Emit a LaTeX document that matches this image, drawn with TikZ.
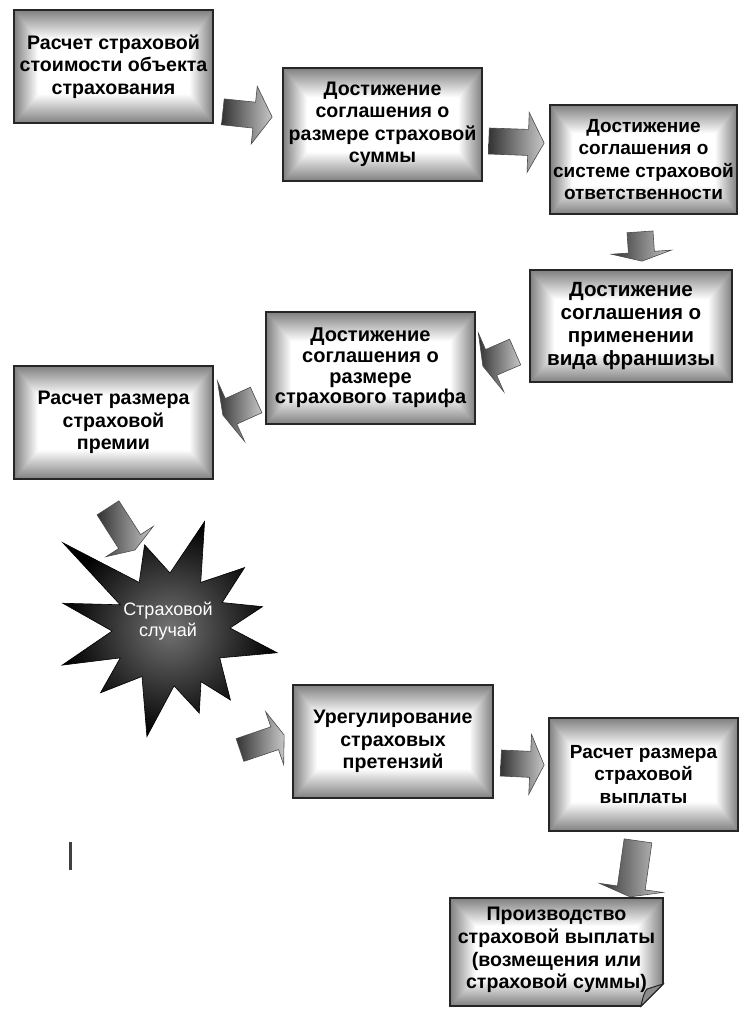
\documentclass[tikz,border=0pt]{standalone}
\usepackage{fontspec}
\setmainfont{Liberation Sans}
\usetikzlibrary{calc}
\pgfdeclarefunctionalshading{boxshade}{\pgfpoint{-50bp}{-50bp}}{\pgfpoint{50bp}{50bp}}{}{abs 12 sub 13 div exch abs 19 sub 6 div 2 copy lt {exch} if pop dup 0 lt {pop 0} if dup 1 gt {pop 1} if 0.5 mul 1 exch sub dup dup}
\tikzset{
  box/.style={draw=black!85, line width=1.7pt, shade, shading=boxshade, align=center,
    font=\fontsize{19.6pt}{22.5pt}\selectfont\bfseries, inner sep=0pt},
  boxpath/.style={draw=black!85, line width=1.7pt, shade, shading=boxshade},
  boxtext/.style={align=center, font=\fontsize{19.6pt}{22.8pt}\selectfont\bfseries, inner sep=0pt},
  blockarrow/.style={draw=black!70, line width=0.6pt, left color=black!80, right color=black!22, line join=miter},
  burst/.style={draw=black, line width=0.6pt, inner color=black!55, outer color=black},
  bursttext/.style={align=center, text=white, font=\fontsize{18pt}{20.5pt}\selectfont, inner sep=0pt},
  cursorbar/.style={line width=3pt, black!75}
}
\newcommand\blockarr[5]{%
  \path[blockarrow] let \p1=(#1), \p2=(#2), \n1={atan2(\y2-\y1,\x2-\x1)}, \n2={veclen(\x2-\x1,\y2-\y1)-#5} in
    ($(\p1)+(\n1+90:#3)$) -- ($(\p1)+(\n1:\n2)+(\n1+90:#3)$) -- ($(\p1)+(\n1:\n2)+(\n1+90:#4)$) -- (\p2)
    -- ($(\p1)+(\n1:\n2)+(\n1-90:#4)$) -- ($(\p1)+(\n1:\n2)+(\n1-90:#3)$) -- ($(\p1)+(\n1-90:#3)$) -- cycle;}
\begin{document}
\begin{tikzpicture}[x=1pt,y=-1pt]
\fill[white] (0,0) rectangle (740,1010);
\useasboundingbox (0,0) rectangle (740,1010);

% boxes
\node[box, minimum width=199pt, minimum height=113pt] (b1) at (113.5,66.5) {\raisebox{0pt}[0pt][0pt]{}Расчет страховой\\стоимости объекта\\страхования};
\node[box, minimum width=199pt, minimum height=113pt] (b2) at (382.5,124.5) {Достижение\\соглашения о\\размере страховой\\суммы};
\node[box, minimum width=187pt, minimum height=109pt, font=\fontsize{19pt}{22.5pt}\selectfont\bfseries] (b3) at (643.5,159.5) {Достижение\\соглашения о\\системе страховой\\ответственности};
\node[box, minimum width=202pt, minimum height=112pt, font=\fontsize{20.6pt}{23.3pt}\selectfont\bfseries] (b4) at (631,326) {Достижение\\соглашения о\\применении\\вида франшизы};
\node[box, minimum width=209pt, minimum height=112pt, font=\fontsize{20pt}{20.6pt}\selectfont\bfseries] (b5) at (370.5,368) {Достижение\\соглашения о\\размере\\страхового тарифа};
\node[box, minimum width=199pt, minimum height=113pt] (b6) at (113.5,422.5) {Расчет размера\\страховой\\премии};
\node[box, minimum width=200pt, minimum height=113pt] (b7) at (393,741.5) {Урегулирование\\страховых\\претензий};
\node[box, minimum width=189pt, minimum height=113pt, font=\fontsize{19pt}{22.5pt}\selectfont\bfseries] (b8) at (643.5,774.5) {Расчет размера\\страховой\\выплаты};

% last box with folded corner
\path[boxpath] (450,898) -- (663,898) -- (663,984) -- (641,1006) -- (450,1006) -- cycle;
\path[draw=black!85, line width=1pt, fill=black!45] (641,1006) .. controls (643,996) and (645,991) .. (647,989) -- (663,984) -- cycle;
\node[boxtext] (b9) at (556.5,950) {Производство\\страховой выплаты\\(возмещения или\\страховой суммы)};

% starburst
\coordinate (sc) at (170,628);
\path[burst] ($(sc)+(-141.5:137)$) -- ($(sc)+(-124:55)$) -- ($(sc)+(-107:87)$) -- ($(sc)+(-90:55)$)
  -- ($(sc)+(-72:112)$) -- ($(sc)+(-56:55)$) -- ($(sc)+(-39:96)$) -- ($(sc)+(-26:58)$)
  -- ($(sc)+(-13:95)$) -- ($(sc)+(0:60)$) -- ($(sc)+(13:110)$) -- ($(sc)+(31:58)$)
  -- ($(sc)+(50:94)$) -- ($(sc)+(60:62)$) -- ($(sc)+(71:90)$) -- ($(sc)+(86:58)$)
  -- ($(sc)+(102:111)$) -- ($(sc)+(120:56)$) -- ($(sc)+(137:95)$) -- ($(sc)+(149:58)$)
  -- ($(sc)+(161:114)$) -- ($(sc)+(177:58)$) -- ($(sc)+(193:110)$) -- ($(sc)+(205:55)$) -- cycle;
\node[bursttext] (star) at (168,621) {Страховой\\случай};

% arrow end points
\coordinate (a1s) at ($(b1.south east)+(9,-12)$);   \coordinate (a1e) at ($(b2.west)+(-10,-7.5)$);
\coordinate (a2s) at ($(b2.east)+(6,16.5)$);        \coordinate (a2e) at ($(b3.west)+(-5,-16.5)$);
\coordinate (a3s) at ($(b3.south)+(-3.5,17)$);      \coordinate (a3e) at ($(b4.north)+(11,-8)$);
\coordinate (a4s) at ($(b4.west)+(-14,26)$);        \coordinate (a4e) at ($(b5.east)+(7,-2)$);
\coordinate (a5s) at ($(b5.west)+(-9,32)$);         \coordinate (a5e) at ($(b6.east)+(9,-7.5)$);
\coordinate (a6s) at ($(b6.south)+(-5.5,28)$);      \coordinate (a6e) at ($(sc)+(-35,-78)$);
\coordinate (a7s) at ($(sc)+(70,122)$);             \coordinate (a7e) at ($(b7.west)+(-8,-6.5)$);
\coordinate (a8s) at ($(b7.east)+(7,21.5)$);        \coordinate (a8e) at ($(b8.west)+(-4,-9.5)$);
\coordinate (a9s) at ($(b8.south)+(-5.5,9)$);       \coordinate (a9e) at ($(b9.north)+(73.5,-10)$);

% block arrows
\blockarr{a1s}{a1e}{13pt}{29pt}{18pt}
\blockarr{a2s}{a2e}{13pt}{30pt}{16pt}
\blockarr{a3s}{a3e}{13pt}{30pt}{9pt}
\blockarr{a4s}{a4e}{14pt}{32pt}{9pt}
\blockarr{a5s}{a5e}{14pt}{33pt}{9pt}
\blockarr{a6s}{a6e}{13pt}{28pt}{10pt}
\blockarr{a7s}{a7e}{12pt}{28pt}{10pt}
\blockarr{a8s}{a8e}{13pt}{30pt}{14pt}
\blockarr{a9s}{a9e}{14pt}{32pt}{9pt}

% stray vertical bar
\coordinate (bar1) at (70,842); \coordinate (bar2) at (70,870);
\draw[cursorbar] (bar1) -- (bar2);
\end{tikzpicture}
\end{document}
